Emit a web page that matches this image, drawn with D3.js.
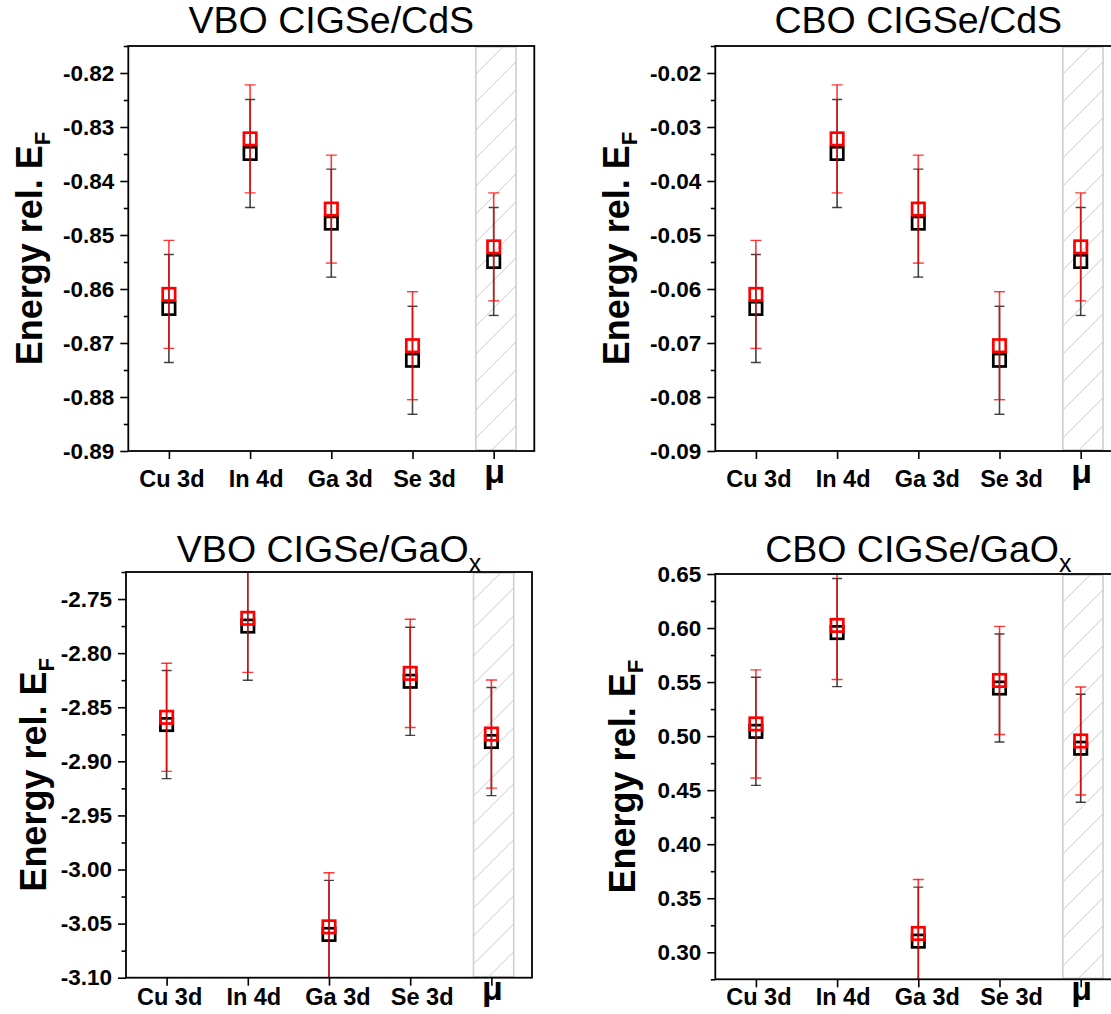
<!DOCTYPE html>
<html>
<head>
<meta charset="utf-8">
<script src="https://cdn.jsdelivr.net/npm/d3@7"></script>
<style>
  html, body { margin: 0; padding: 0; background: #fff; }
  svg { display: block; }
  text { font-family: "Liberation Sans", Arial, Helvetica, sans-serif; fill: #000; }
</style>
</head>
<body>
<script>
// Core levels / reference used for the band offsets
const categories = ["Cu 3d", "In 4d", "Ga 3d", "Se 3d", "\u03bc"];

// VBO CIGSe/CdS (eV)
const vboCdsBlack = [-0.8636, -0.8349, -0.8478, -0.8732, -0.8549];
const vboCdsRed   = [-0.8610, -0.8322, -0.8452, -0.8705, -0.8522];
// CBO CIGSe/CdS (eV)
const cboCdsBlack = [-0.0636, -0.0349, -0.0478, -0.0732, -0.0549];
const cboCdsRed   = [-0.0610, -0.0322, -0.0452, -0.0705, -0.0522];
// uncertainties for the CdS interface
const cdsErrBlack = [0.01, 0.01, 0.01, 0.01, 0.01];
const cdsErrRed   = [0.01, 0.01, 0.01, 0.01, 0.01];

// VBO CIGSe/GaOx (eV)
const vboGaoxBlack = [-2.8660, -2.7750, -3.0600, -2.8260, -2.8817];
const vboGaoxRed   = [-2.8593, -2.7678, -3.0530, -2.8187, -2.8748];
// CBO CIGSe/GaOx (eV)
const cboGaoxBlack = [0.5044, 0.5958, 0.3103, 0.5445, 0.4888];
const cboGaoxRed   = [0.5113, 0.6024, 0.3174, 0.5515, 0.4955];
// uncertainties for the GaOx interface
const gaoxErrBlack = [0.05, 0.05, 0.05, 0.05, 0.05];
const gaoxErrRed   = [0.05, 0.05, 0.05, 0.05, 0.05];

// y-axis tick labels
const vboCdsTicks  = [-0.82, -0.83, -0.84, -0.85, -0.86, -0.87, -0.88, -0.89];
const cboCdsTicks  = [-0.02, -0.03, -0.04, -0.05, -0.06, -0.07, -0.08, -0.09];
const vboGaoxTicks = [-2.75, -2.80, -2.85, -2.90, -2.95, -3.00, -3.05, -3.10];
const cboGaoxTicks = [0.65, 0.60, 0.55, 0.50, 0.45, 0.40, 0.35, 0.30];

// axis ranges
const vboCdsDomain  = [-0.89, -0.815];
const cboCdsDomain  = [-0.09, -0.015];
const vboGaoxDomain = [-3.10, -2.725];
const cboGaoxDomain = [0.275, 0.65];

// shaded span behind the mean value (x units)
const hatchSpan = [4.78, 5.275];

const W = 1111, H = 1014;
const svg = d3.select("body").append("svg")
  .attr("width", W).attr("height", H)
  .attr("viewBox", `0 0 ${W} ${H}`);
svg.append("rect").attr("width", W).attr("height", H).attr("fill", "#fff");

const defs = svg.append("defs");
const PLOT_W = 406;

const panels = [
  { id: "a", title: "VBO CIGSe/CdS", sub: null, domain: vboCdsDomain, ticks: vboCdsTicks,
    black: vboCdsBlack, red: vboCdsRed, errB: cdsErrBlack, errR: cdsErrRed,
    left: 128.3, top: 46, bottom: 451, titleY: 33.3, ylabDx: 86, xlabDy: 36, muDy: 31.6 },
  { id: "b", title: "CBO CIGSe/CdS", sub: null, domain: cboCdsDomain, ticks: cboCdsTicks,
    black: cboCdsBlack, red: cboCdsRed, errB: cdsErrBlack, errR: cdsErrRed,
    left: 715.3, top: 46, bottom: 451, titleY: 33.3, ylabDx: 86, xlabDy: 36, muDy: 31.6 },
  { id: "c", title: "VBO CIGSe/GaO", sub: "x", domain: vboGaoxDomain, ticks: vboGaoxTicks,
    black: vboGaoxBlack, red: vboGaoxRed, errB: gaoxErrBlack, errR: gaoxErrRed,
    left: 126, top: 572, bottom: 977.7, titleY: 561.7, ylabDx: 80, xlabDy: 27.5, muDy: 22 },
  { id: "d", title: "CBO CIGSe/GaO", sub: "x", domain: cboGaoxDomain, ticks: cboGaoxTicks,
    black: cboGaoxBlack, red: cboGaoxRed, errB: gaoxErrBlack, errR: gaoxErrRed,
    left: 715.3, top: 574, bottom: 979.3, titleY: 561.7, ylabDx: 80, xlabDy: 26, muDy: 21 }
];

panels.forEach(p => {
  const x = d3.scaleLinear().domain([0.5, 5.5]).range([p.left, p.left + PLOT_W]);
  const y = d3.scaleLinear().domain(p.domain).range([p.bottom, p.top]);
  const g = svg.append("g");

  // clip to the plotting area
  defs.append("clipPath").attr("id", "clip-" + p.id)
    .append("rect")
    .attr("x", p.left).attr("y", p.top)
    .attr("width", PLOT_W).attr("height", p.bottom - p.top);

  // diagonal hatch pattern
  const hx = x(hatchSpan[0]);
  const pat = defs.append("pattern")
    .attr("id", "hatch-" + p.id)
    .attr("patternUnits", "userSpaceOnUse")
    .attr("x", hx).attr("y", p.top)
    .attr("width", 28).attr("height", 28);
  pat.append("path")
    .attr("d", "M0,28 L28,0 M-7,7 L7,-7 M21,35 L35,21")
    .attr("stroke", "#c8c8c8").attr("stroke-width", 1).attr("fill", "none");

  const plot = g.append("g").attr("clip-path", `url(#clip-${p.id})`);

  plot.append("rect")
    .attr("x", hx).attr("y", p.top + 1)
    .attr("width", x(hatchSpan[1]) - hx)
    .attr("height", p.bottom - p.top - 2)
    .attr("fill", `url(#hatch-${p.id})`)
    .attr("stroke", "#cfcfcf").attr("stroke-width", 1.6);

  // error bars for one series
  const drawSeries = (vals, errs, lineColor, cap) => {
    const d = vals.map((v, i) => ({ i: i + 1, v, e: errs[i] }));
    const eb = plot.append("g").attr("stroke", lineColor).attr("fill", "none");
    eb.selectAll("line.v").data(d).join("line")
      .attr("x1", k => x(k.i)).attr("x2", k => x(k.i))
      .attr("y1", k => y(k.v + k.e)).attr("y2", k => y(k.v - k.e))
      .attr("stroke-width", 1.6);
    eb.selectAll("line.t").data(d).join("line")
      .attr("x1", k => x(k.i) - cap / 2).attr("x2", k => x(k.i) + cap / 2)
      .attr("y1", k => y(k.v + k.e)).attr("y2", k => y(k.v + k.e))
      .attr("stroke-width", 1.4);
    eb.selectAll("line.b").data(d).join("line")
      .attr("x1", k => x(k.i) - cap / 2).attr("x2", k => x(k.i) + cap / 2)
      .attr("y1", k => y(k.v - k.e)).attr("y2", k => y(k.v - k.e))
      .attr("stroke-width", 1.4);
    return d;
  };
  // hollow square markers
  const drawMarkers = (d, color) => {
    const s = 12.4;
    plot.append("g").selectAll("rect").data(d).join("rect")
      .attr("x", k => x(k.i) - s / 2).attr("y", k => y(k.v) - s / 2)
      .attr("width", s).attr("height", s)
      .attr("fill", "none").attr("stroke", color).attr("stroke-width", 2.7);
  };

  const dB = drawSeries(p.black, p.errB, "rgba(20,20,20,0.8)", 10);
  drawMarkers(dB, "#000");
  const dR = drawSeries(p.red, p.errR, "rgba(255,0,0,0.78)", 11);
  drawMarkers(dR, "#f00");

  // frame
  g.append("rect")
    .attr("x", p.left).attr("y", p.top)
    .attr("width", PLOT_W).attr("height", p.bottom - p.top)
    .attr("fill", "none").attr("stroke", "#000").attr("stroke-width", 1.8);

  // y axis: major ticks with labels
  const step = Math.abs(p.ticks[1] - p.ticks[0]);
  const yAxis = d3.axisLeft(y).tickValues(p.ticks).tickSize(8).tickPadding(6)
    .tickFormat(v => v.toFixed(2));
  const ya = g.append("g").attr("transform", `translate(${p.left},0)`).call(yAxis);
  ya.select(".domain").remove();
  ya.selectAll(".tick line").attr("stroke", "#000").attr("stroke-width", 1.6);
  ya.selectAll(".tick text")
    .style("font-size", "22.5px").style("font-weight", "bold")
    .style("font-family", "'Liberation Sans', Arial, sans-serif")
    .attr("fill", "#000");

  // y axis: minor ticks halfway between labels
  const lo = Math.min(...p.domain), hi = Math.max(...p.domain);
  const minors = [];
  p.ticks.forEach(t => {
    [t - step / 2, t + step / 2].forEach(m => {
      if (m >= lo - 1e-9 && m <= hi + 1e-9 && !minors.some(q => Math.abs(q - m) < 1e-9)) minors.push(m);
    });
  });
  const ym = g.append("g").attr("transform", `translate(${p.left},0)`)
    .call(d3.axisLeft(y).tickValues(minors).tickSize(4.5).tickFormat(""));
  ym.select(".domain").remove();
  ym.selectAll(".tick line").attr("stroke", "#000").attr("stroke-width", 1.6);

  // x axis ticks
  const xa = g.append("g").attr("transform", `translate(0,${p.bottom})`)
    .call(d3.axisBottom(x).tickValues([1, 2, 3, 4, 5]).tickSize(8).tickFormat(""));
  xa.select(".domain").remove();
  xa.selectAll(".tick line").attr("stroke", "#000").attr("stroke-width", 1.6);

  // category labels
  categories.forEach((c, i) => {
    const isMu = i === categories.length - 1;
    g.append("text")
      .attr("x", x(i + 1) + (isMu ? 1 : 3 + 3 * i))
      .attr("y", p.bottom + (isMu ? p.muDy : p.xlabDy))
      .attr("text-anchor", "middle")
      .style("font-weight", "bold")
      .style("font-size", isMu ? "34px" : "23.5px")
      .text(c);
  });

  // title
  const tt = g.append("text")
    .attr("x", p.left + PLOT_W / 2).attr("y", p.titleY)
    .attr("text-anchor", "middle")
    .style("font-size", "37.5px");
  tt.append("tspan").text(p.title);
  if (p.sub) tt.append("tspan").attr("dy", 10).style("font-size", "25px").text(p.sub);

  // y label
  const yl = g.append("text")
    .attr("transform", `translate(${p.left - p.ylabDx},${(p.top + p.bottom) / 2}) rotate(-90)`)
    .attr("text-anchor", "middle")
    .style("font-weight", "bold").style("font-size", "36px");
  yl.append("tspan").text("Energy rel. E");
  yl.append("tspan").attr("dy", 8).style("font-size", "22px").text("F");
});
</script>
</body>
</html>
